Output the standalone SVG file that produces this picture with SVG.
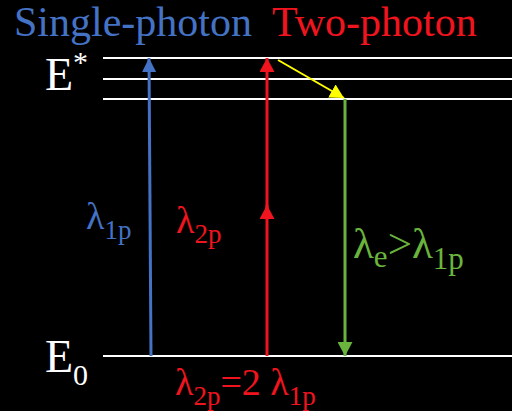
<svg xmlns="http://www.w3.org/2000/svg" width="512" height="411" viewBox="0 0 512 411">
<style>
text{font-family:"Liberation Serif","Times New Roman",serif}
.lvl{stroke:#fff;stroke-width:2}
.blue{fill:#4472C4}
.red{fill:#F0141E}
.green{fill:#6AB43E}
.white{fill:#fff}
</style>
<defs>
<marker id="hb" markerWidth="14" markerHeight="14" refX="14" refY="7" orient="auto" markerUnits="userSpaceOnUse"><path d="M0,0L14,7L0,14z" fill="#4472C4"/></marker>
<marker id="hr" markerWidth="14" markerHeight="15" refX="14" refY="7.5" orient="auto" markerUnits="userSpaceOnUse"><path d="M0,0L14,7.5L0,15z" fill="#F0141E"/></marker>
<marker id="hg" markerWidth="14" markerHeight="15" refX="14" refY="7.5" orient="auto" markerUnits="userSpaceOnUse"><path d="M0,0L14,7.5L0,15z" fill="#6AB43E"/></marker>
<marker id="hy" markerWidth="14" markerHeight="15" refX="14" refY="7.5" orient="auto" markerUnits="userSpaceOnUse"><path d="M0,0L14,7.5L0,15z" fill="#FFFF00"/></marker>
</defs>
<rect width="512" height="411" fill="#000"/>
<g id="levels">
<line class="lvl" x1="103" y1="58" x2="512" y2="58"/>
<line class="lvl" x1="103" y1="79" x2="512" y2="79"/>
<line class="lvl" x1="103" y1="99" x2="512" y2="99"/>
<line class="lvl" x1="103" y1="356" x2="512" y2="356"/>
</g>
<g id="connectors">
<line x1="151" y1="356" x2="149" y2="58" stroke="#4472C4" stroke-width="3" marker-end="url(#hb)"/>
<line x1="267" y1="356" x2="267" y2="205" stroke="#F0141E" stroke-width="3" marker-end="url(#hr)"/>
<line x1="267" y1="215" x2="267" y2="58" stroke="#F0141E" stroke-width="3" marker-end="url(#hr)"/>
<line x1="278" y1="60" x2="344" y2="98" stroke="#FFFF00" stroke-width="2" marker-end="url(#hy)"/>
<line x1="345" y1="99" x2="345" y2="356" stroke="#6AB43E" stroke-width="3" marker-end="url(#hg)"/>
</g>
<g id="titles">
<text class="blue" x="14" y="36" font-size="42">Single-photon</text>
<text class="red" x="272" y="36" font-size="42">Two-photon</text>
</g>
<g id="estar"><text class="white" x="45" y="90" font-size="46">E<tspan font-size="30" dy="-18">*</tspan></text></g>
<g id="ezero"><text class="white" x="45" y="372" font-size="46">E<tspan font-size="30" dy="13">0</tspan></text></g>
<g id="l1p"><text class="blue" x="86" y="229" font-size="38">λ<tspan font-size="27" dy="10">1p</tspan></text></g>
<g id="l2p"><text class="red" x="176" y="233" font-size="38">λ<tspan font-size="27" dy="10">2p</tspan></text></g>
<g id="le"><text class="green" x="353" y="258" font-size="43">λ<tspan font-size="31" dy="9">e</tspan><tspan dy="-9">&gt;λ</tspan><tspan font-size="31" dy="11">1p</tspan></text></g>
<g id="rel"><text class="red" x="175" y="395" font-size="38">λ<tspan font-size="27" dy="10">2p</tspan><tspan dy="-10">=2 λ</tspan><tspan font-size="27" dy="10">1p</tspan></text></g>
</svg>
